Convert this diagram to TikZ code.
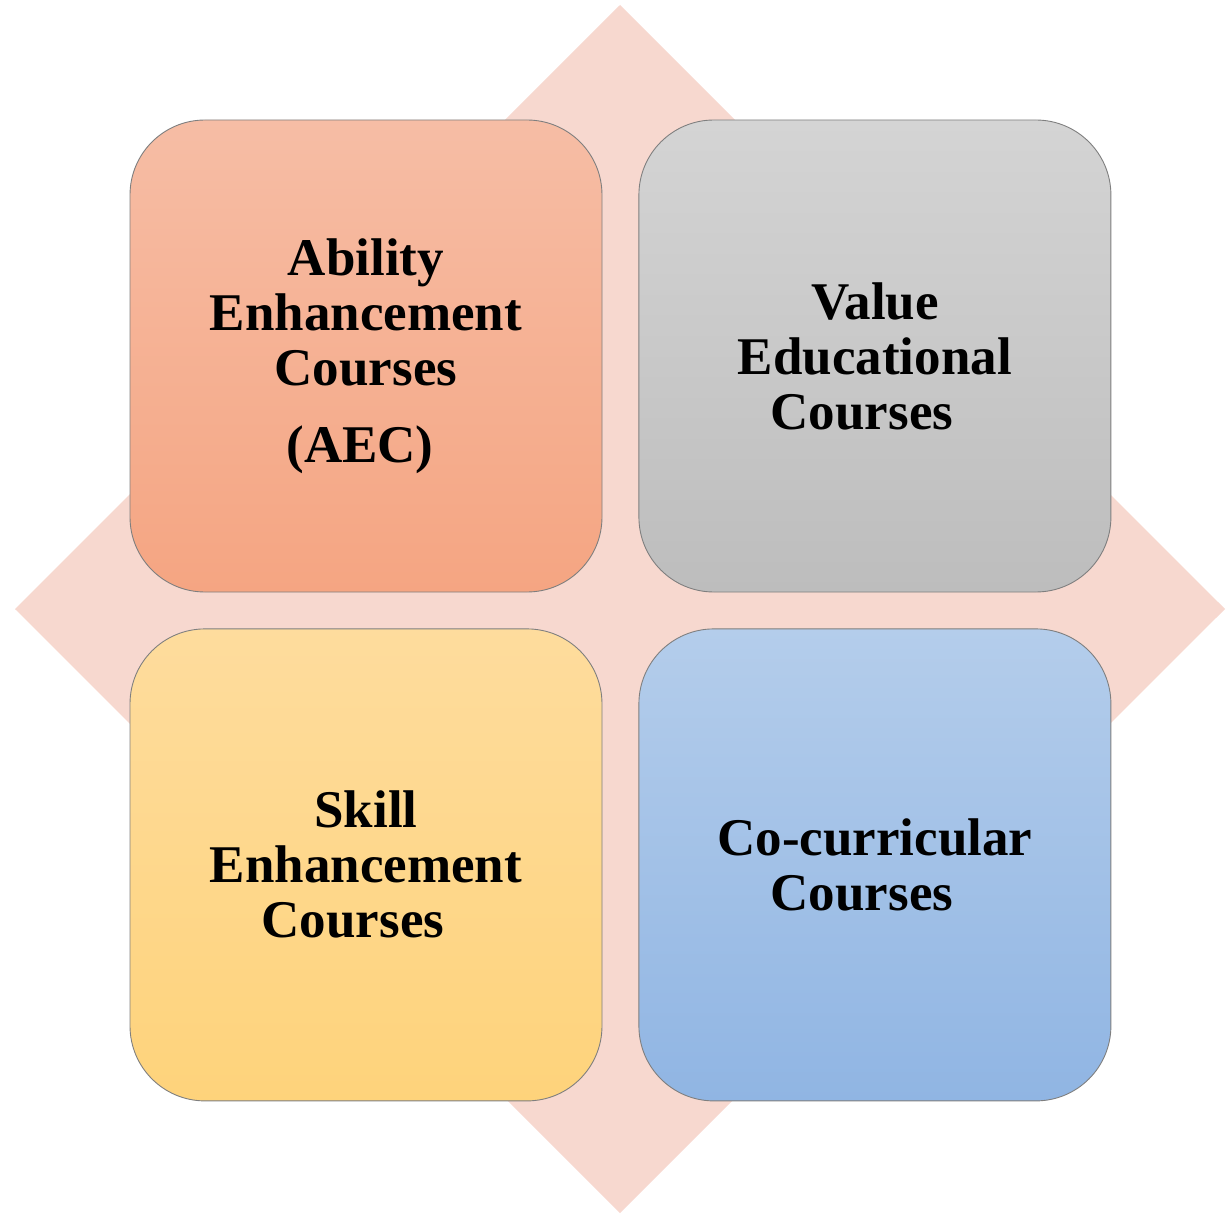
\documentclass[tikz,border=0pt]{standalone}
\usepackage{fontspec}
\setmainfont{Liberation Serif}
\usetikzlibrary{positioning}

\definecolor{kite}{HTML}{F7D8CF}
\definecolor{aectop}{HTML}{F6BDA5}
\definecolor{aecbot}{HTML}{F5A582}
\definecolor{valtop}{HTML}{D4D4D4}
\definecolor{valbot}{HTML}{BDBDBD}
\definecolor{skltop}{HTML}{FEDC9D}
\definecolor{sklbot}{HTML}{FED37B}
\definecolor{cocotop}{HTML}{B4CDEB}
\definecolor{cocobot}{HTML}{90B5E3}
\definecolor{rim}{HTML}{7F7F7F}

\tikzset{
  course/.style={draw=rim, line width=0.9pt, rounded corners=75pt,
    minimum width=472pt, minimum height=472pt, inner sep=0pt,
    align=center, font=\fontsize{53}{55}\selectfont\bfseries}
}

\begin{document}
\begin{tikzpicture}[x=1pt, y=1pt]
        % Frame
        \useasboundingbox (0,0) rectangle (1232,-1214);

        % Background kite
        \fill[kite] (620,-5) -- (1225,-609) -- (620,-1213) -- (15,-609) -- cycle;

        % Course boxes
        \node[course, top color=aectop, bottom color=aecbot] (aec) at (366,-356)
            {Ability\\Enhancement\\Courses\\[22pt](AEC)\hspace*{12pt}};
        \node[course, top color=valtop, bottom color=valbot, right=36pt of aec] (value)
            {Value\\Educational\\Courses\hspace*{26pt}};
        \node[course, top color=skltop, bottom color=sklbot, below=36pt of aec] (skill)
            {Skill\\Enhancement\\Courses\hspace*{26pt}};
        \node[course, top color=cocotop, bottom color=cocobot, below=36pt of value] (cocurr)
            {Co-curricular\\Courses\hspace*{26pt}};
\end{tikzpicture}
\end{document}
